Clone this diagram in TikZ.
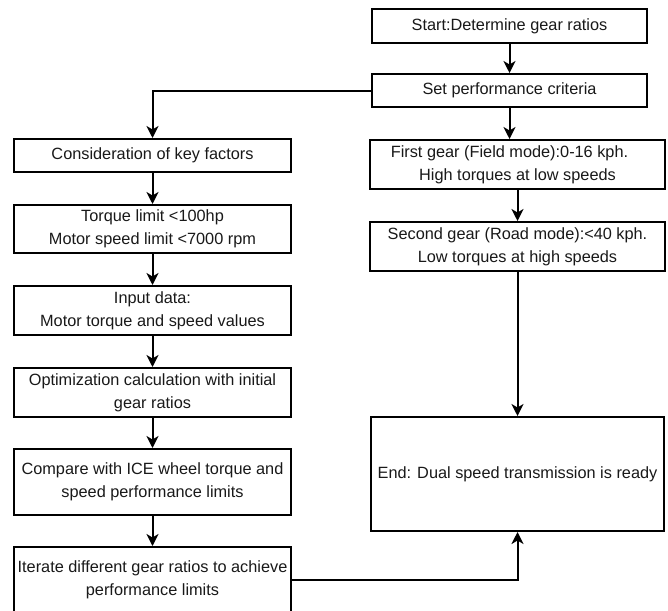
\documentclass[tikz,border=0pt]{standalone}
\usepackage{fontspec}
\setmainfont{Liberation Sans}
\usetikzlibrary{arrows.meta}
\begin{document}
\begin{tikzpicture}[x=1pt,y=-1pt,
  box/.style={draw=black, line width=2pt, fill=white, inner sep=0pt, align=center,
    font=\fontsize{16.3}{23}\selectfont, text=black!90},
  conn/.style={line width=2pt, -{Stealth[length=12pt,width=12pt,inset=3.5pt]}},
  line/.style={line width=2pt}]
\useasboundingbox (0,0) rectangle (668,610);
\clip (0,0) rectangle (668,610);
\fill[white] (0,0) rectangle (668,610);
% right column
\node[box, minimum width=275pt, minimum height=34pt] (start) at (509.5,26) {Start:Determine gear ratios};
\node[box, minimum width=275pt, minimum height=33pt] (set) at (509.5,90.5) {Set performance criteria};
\node[box, minimum width=295pt, minimum height=49pt] (first) at (517.5,164.5) {First gear (Field mode):0-16 kph.\hspace*{16pt}\\High torques at low speeds};
\node[box, minimum width=295pt, minimum height=49pt] (second) at (517.5,246.5) {Second gear (Road mode):<40 kph.\\Low torques at high speeds};
\node[box, minimum width=293pt, minimum height=114pt] (end) at (517.5,474) {End: Dual speed transmission is ready};
% left column
\node[box, minimum width=277pt, minimum height=33pt] (cons) at (152.5,155.5) {Consideration of key factors};
\node[box, minimum width=277pt, minimum height=48pt] (torque) at (152.5,229) {Torque limit <100hp\\Motor speed limit <7000 rpm};
\node[box, minimum width=277pt, minimum height=49pt] (input) at (152.5,310.5) {Input data:\\Motor torque and speed values};
\node[box, minimum width=277pt, minimum height=49pt] (opt) at (152.5,392.5) {Optimization calculation with initial\\gear ratios};
\node[box, minimum width=277pt, minimum height=66pt] (comp) at (152.5,482) {Compare with ICE wheel torque and\\speed performance limits};
\node[box, minimum width=277pt, minimum height=66pt] (iter) at (152.5,580) {Iterate different gear ratios to achieve\\performance limits};
% connectors
\draw[conn] (start) -- (set);
\draw[conn] (set) -- (set.south |- first.north);
\draw[conn] (first) -- (second);
\draw[conn] (second) -- (end);
\draw[conn] (set.west) -| (cons.north);
\draw[conn] (cons) -- (torque);
\draw[conn] (torque) -- (input);
\draw[conn] (input) -- (opt);
\draw[conn] (opt) -- (comp);
\draw[conn] (comp) -- (iter);
\draw[conn] (iter.east) -| (end.south);
\end{tikzpicture}
\end{document}
